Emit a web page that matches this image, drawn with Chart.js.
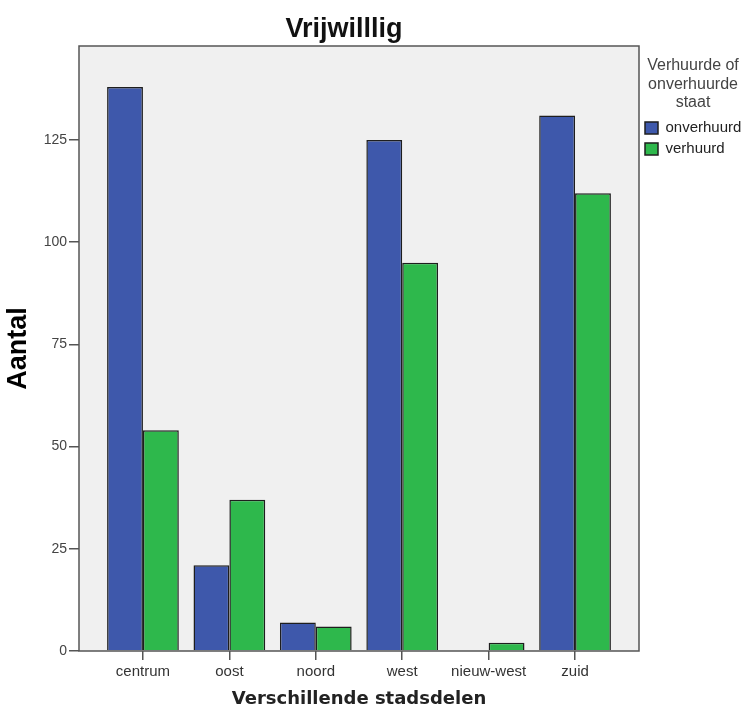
<!DOCTYPE html>
<html>
<head>
<meta charset="utf-8">
<title>Vrijwilllig</title>
<script src="https://cdn.jsdelivr.net/npm/chart.js@4/dist/chart.umd.min.js"></script>
<style>
  html, body { margin: 0; padding: 0; background: #ffffff; }
  #wrap { width: 747px; height: 710px; position: relative; }
</style>
</head>
<body>
<div id="wrap"><canvas id="chart" width="747" height="710"></canvas></div>
<script>
// Stadsdelen en aantallen per huurstatus
const CATEGORIES = ['centrum', 'oost', 'noord', 'west', 'nieuw-west', 'zuid'];
const ONVERHUURD = [138, 21, 7, 125, 0, 131];
const VERHUURD = [54, 37, 6, 95, 2, 112];
const SERIES_LABELS = ['onverhuurd', 'verhuurd'];
const Y_TICKS = [0, 25, 50, 75, 100, 125];
const Y_MAX = 148;

const CHART_TITLE = 'Vrijwilllig';
const LEGEND_TITLE = ['Verhuurde of', 'onverhuurde', 'staat'];
const X_TITLE = 'Verschillende stadsdelen';
const Y_TITLE = 'Aantal';

// extra room left/right of the outer categories, in category units
const X_EDGE = 0.74;

const toPoints = values => values.map((v, i) => ({ x: i, y: v }));

// grey plot background plus frame, and the chart title
const plotFrame = {
  id: 'plotFrame',
  beforeDatasetsDraw(chart) {
    const { ctx, chartArea: a } = chart;
    ctx.save();
    ctx.fillStyle = '#f0f0f0';
    ctx.fillRect(a.left, a.top, a.width, a.height);
    ctx.restore();
  },
  afterDatasetsDraw(chart) {
    const { ctx, chartArea: a } = chart;
    ctx.save();
    ctx.strokeStyle = '#555555';
    ctx.lineWidth = 1.5;
    ctx.strokeRect(a.left, a.top, a.width, a.height);
    ctx.restore();
  },
  afterDraw(chart) {
    const { ctx } = chart;
    ctx.save();
    ctx.fillStyle = '#111111';
    ctx.font = 'bold 27px "Liberation Sans", Arial, sans-serif';
    ctx.textAlign = 'center';
    ctx.textBaseline = 'alphabetic';
    ctx.fillText(CHART_TITLE, 344, 37);
    ctx.restore();
  }
};

new Chart(document.getElementById('chart'), {
  type: 'bar',
  data: {
    datasets: [
      {
        label: SERIES_LABELS[0],
        data: toPoints(ONVERHUURD),
        backgroundColor: '#3e58ab',
        borderColor: '#1e1e1e',
        borderWidth: 1.5
      },
      {
        label: SERIES_LABELS[1],
        data: toPoints(VERHUURD),
        backgroundColor: '#2eb84c',
        borderColor: '#1e1e1e',
        borderWidth: 1.5
      }
    ]
  },
  options: {
    responsive: false,
    animation: false,
    events: [],
    layout: { padding: { top: 46, left: 0, right: 0, bottom: 0 } },
    datasets: { bar: { categoryPercentage: 0.83, barPercentage: 1.0 } },
    scales: {
      x: {
        type: 'linear',
        offset: false,
        min: -X_EDGE,
        max: CATEGORIES.length - 1 + X_EDGE,
        afterBuildTicks(scale) {
          scale.ticks = CATEGORIES.map((_, i) => ({ value: i }));
        },
        afterFit(scale) { scale.height = 59; },
        ticks: {
          callback: v => CATEGORIES[v],
          autoSkip: false,
          maxRotation: 0,
          padding: 3,
          color: '#333333',
          font: { family: '"Liberation Sans", Arial, sans-serif', size: 15 }
        },
        grid: {
          offset: false,
          drawOnChartArea: false,
          drawTicks: true,
          tickLength: 9,
          color: '#555555',
          lineWidth: 1.5
        },
        border: { display: false },
        title: {
          display: true,
          text: X_TITLE,
          color: '#222222',
          padding: { top: 4, bottom: 0 },
          font: { family: '"DejaVu Sans", Verdana, sans-serif', size: 18, weight: 'bold' }
        }
      },
      y: {
        min: 0,
        max: Y_MAX,
        afterBuildTicks(scale) {
          scale.ticks = Y_TICKS.map(v => ({ value: v }));
        },
        afterFit(scale) { scale.width = 79; },
        ticks: {
          padding: 2,
          color: '#444444',
          font: { family: '"Liberation Sans", Arial, sans-serif', size: 14 }
        },
        grid: {
          drawOnChartArea: false,
          drawTicks: true,
          tickLength: 10,
          color: '#555555',
          lineWidth: 1.5
        },
        border: { display: false },
        title: {
          display: true,
          text: Y_TITLE,
          color: '#000000',
          padding: { top: 2, bottom: 0 },
          font: { family: '"Liberation Sans", Arial, sans-serif', size: 27, weight: 'bold' }
        }
      }
    },
    plugins: {
      title: { display: false },
      tooltip: { enabled: false },
      legend: {
        display: true,
        position: 'right',
        align: 'start',
        maxWidth: 108,
        title: {
          display: true,
          text: LEGEND_TITLE,
          position: 'center',
          color: '#444444',
          padding: { top: 12, bottom: 38 },
          font: { family: '"Liberation Sans", Arial, sans-serif', size: 16, lineHeight: 1.15 }
        },
        labels: {
          boxWidth: 13,
          boxHeight: 12,
          padding: 6,
          color: '#222222',
          font: { family: '"Liberation Sans", Arial, sans-serif', size: 15 }
        }
      }
    }
  },
  plugins: [plotFrame]
});
</script>
</body>
</html>
